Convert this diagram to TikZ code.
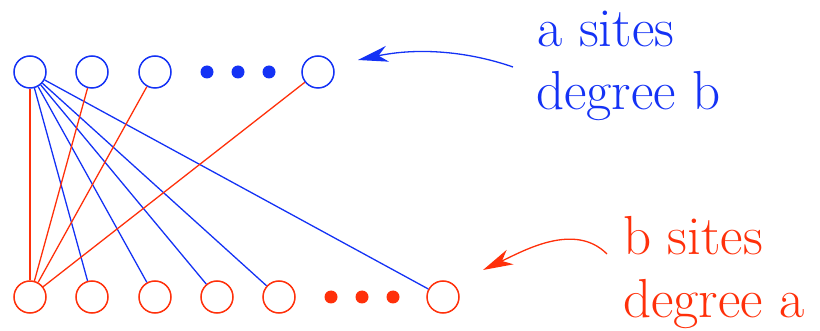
\documentclass[tikz,border=0pt]{standalone}
\usetikzlibrary{arrows.meta}
\definecolor{sblue}{RGB}{20,50,245}
\definecolor{sred}{RGB}{255,48,10}
\tikzset{
  asite/.style={circle,draw=sblue,line width=1.5pt,minimum size=32pt,inner sep=0pt},
  bsite/.style={circle,draw=sred,line width=1.5pt,minimum size=32pt,inner sep=0pt},
  adot/.style={circle,fill=sblue,minimum size=13pt,inner sep=0pt},
  bdot/.style={circle,fill=sred,minimum size=13pt,inner sep=0pt},
  bedge/.style={draw=sblue,line width=1.3pt},
  redge/.style={draw=sred,line width=1.3pt},
  lbl/.style={font=\fontsize{55}{63}\selectfont,anchor=base west,inner sep=0pt},
}
\begin{document}
\begin{tikzpicture}[x=1pt,y=-1pt]
\useasboundingbox (0,0) rectangle (820,331);
% top sites
\node[asite] (a1) at (30,72) {};
\node[asite] (a2) at (92,72) {};
\node[asite] (a3) at (155,72) {};
\node[adot] (ad1) at (207,72) {};
\node[adot] (ad2) at (238,72) {};
\node[adot] (ad3) at (269,72) {};
\node[asite] (a4) at (318,72) {};
% bottom sites
\node[bsite] (b1) at (30,297) {};
\node[bsite] (b2) at (92,297) {};
\node[bsite] (b3) at (155,297) {};
\node[bsite] (b4) at (217,297) {};
\node[bsite] (b5) at (279,297) {};
\node[bdot] (bd1) at (331,297) {};
\node[bdot] (bd2) at (362,297) {};
\node[bdot] (bd3) at (393,297) {};
\node[bsite] (b6) at (443,297) {};
% blue edges
\foreach \t in {b2,b3,b4,b5,b6} \path[bedge] (a1) -- (\t);
% red edges
\foreach \t in {a1,a2,a3,a4} \path[redge] (b1) -- (\t);
% labels
\node[lbl,text=sblue] (la1) at (537,47) {a sites};
\node[lbl,text=sblue] (la2) at (536,110) {degree b};
\node[lbl,text=sred] (lb1) at (623,255) {b sites};
\node[lbl,text=sred] (lb2) at (623,318) {degree a};
% arrows
\coordinate (sa) at (513,67);
\coordinate (ta) at (358,60);
\draw[sblue,line width=1.3pt,-{Stealth[length=30pt,width=16pt,inset=9pt]}]
  (sa) .. controls (470,52) and (420,47) .. (ta);
\coordinate (sb) at (607,254);
\coordinate (tb) at (483,270);
\draw[sred,line width=1.3pt,-{Stealth[length=30pt,width=16pt,inset=9pt]}]
  (sb) .. controls (575,222) and (525,250) .. (tb);
\end{tikzpicture}
\end{document}
